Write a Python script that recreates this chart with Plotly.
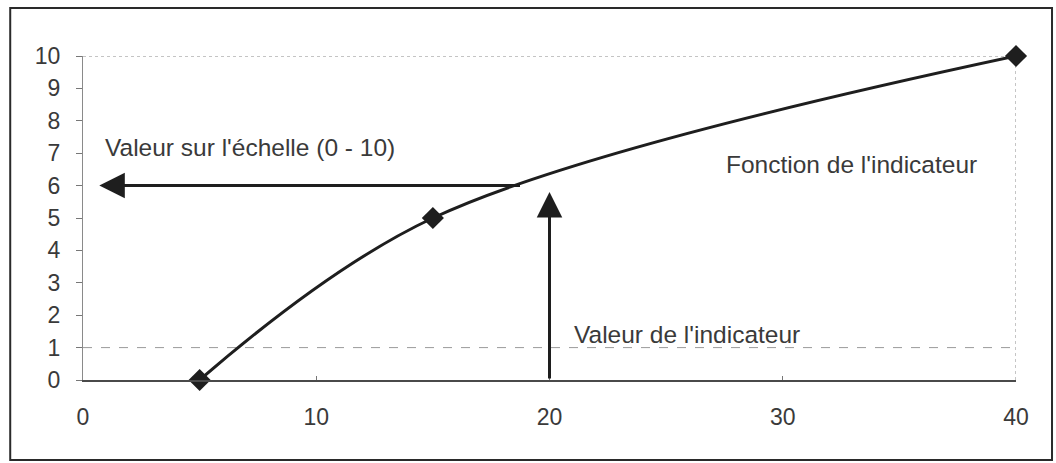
import plotly.graph_objects as go

# Data
x_values = [5, 15, 40]
y_values = [0, 5, 10]
x_ticks = [0, 10, 20, 30, 40]
y_ticks = list(range(0, 11))
guide_y = 1            # dashed guide line
indicator_value = 20   # vertical arrow position (x)
indicator_top = 5.8    # vertical arrow tip (y)
scale_value = 6        # horizontal arrow position (y)
scale_start = 18.8     # horizontal arrow start (x)
scale_tip = 0.7        # horizontal arrow tip (x)

FONT = "Liberation Sans, Arial, sans-serif"
TXT = "#3a3a3a"
INK = "#1e1e1e"

fig = go.Figure()

fig.add_trace(go.Scatter(
    x=x_values, y=y_values, mode="lines+markers",
    line=dict(color=INK, width=3, shape="spline", smoothing=1),
    marker=dict(symbol="diamond", size=17, color=INK),
    cliponaxis=False, showlegend=False, hoverinfo="skip",
))

# dashed guide line at y = 1
fig.add_shape(type="line", xref="x", yref="y", x0=0, x1=40, y0=guide_y, y1=guide_y,
              line=dict(color="#9a9a9a", width=1, dash="dash"), layer="below")
# plot-area border top & right
fig.add_shape(type="line", xref="x", yref="y", x0=0, x1=40, y0=10, y1=10,
              line=dict(color="#8a8a8a", width=1, dash="dot"), layer="below")
fig.add_shape(type="line", xref="x", yref="y", x0=40, x1=40, y0=0, y1=10,
              line=dict(color="#8a8a8a", width=1, dash="dot"), layer="below")

# outer frame
fig.add_shape(type="rect", xref="paper", yref="paper",
              x0=-0.078, x1=1.0386, y0=-0.247, y1=1.148,
              line=dict(color="#2a2a2a", width=2))

# arrows
fig.add_annotation(x=scale_tip, y=scale_value, ax=scale_start, ay=scale_value,
                   xref="x", yref="y", axref="x", ayref="y", text="",
                   showarrow=True, arrowhead=2, arrowwidth=3, arrowsize=1.7,
                   arrowcolor=INK)
fig.add_annotation(x=indicator_value, y=indicator_top, ax=indicator_value, ay=0,
                   xref="x", yref="y", axref="x", ayref="y", text="",
                   showarrow=True, arrowhead=2, arrowwidth=3, arrowsize=1.7,
                   arrowcolor=INK)

# labels
fig.add_annotation(x=0.86, y=7.19, xref="x", yref="y", text="Valeur sur l'échelle (0 - 10)",
                   showarrow=False, xanchor="left", yanchor="middle",
                   font=dict(family=FONT, size=24.5, color=TXT))
fig.add_annotation(x=27.5, y=6.64, xref="x", yref="y", text="Fonction de l'indicateur",
                   showarrow=False, xanchor="left", yanchor="middle",
                   font=dict(family=FONT, size=24.5, color=TXT))
fig.add_annotation(x=20.96, y=1.39, xref="x", yref="y", text="Valeur de l'indicateur",
                   showarrow=False, xanchor="left", yanchor="middle",
                   font=dict(family=FONT, size=24.5, color=TXT))

fig.update_layout(
    width=1056, height=463,
    margin=dict(l=83, r=40, t=56, b=83),
    paper_bgcolor="white", plot_bgcolor="white",
    font=dict(family=FONT, size=23, color=TXT),
    showlegend=False,
)
fig.update_xaxes(range=[0, 40], tickvals=x_ticks, showgrid=False, zeroline=False,
                 showline=True, linecolor="#4a4a4a", linewidth=2,
                 ticks="inside", ticklen=4, tickcolor="#777",
                 ticklabelstandoff=15, tickfont=dict(size=23, color=TXT))
fig.update_yaxes(range=[0, 10], tickvals=y_ticks, showgrid=False, zeroline=False,
                 showline=True, linecolor="#8a8a8a", linewidth=1,
                 ticks="outside", ticklen=6, tickcolor="#777",
                 ticklabelstandoff=11, tickfont=dict(size=23, color=TXT))

fig.write_html("out.html",
               config={"displayModeBar": False, "staticPlot": True},
               post_script="document.body.style.margin='0';document.body.style.overflow='hidden';")
